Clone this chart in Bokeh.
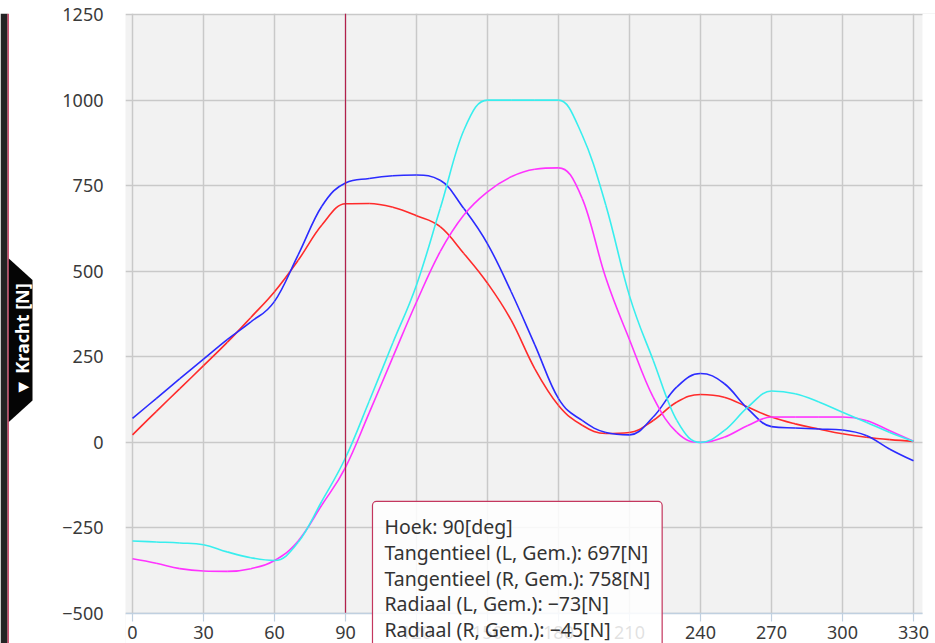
import math
from bokeh.plotting import figure
from bokeh.models import Range1d, FixedTicker, Label
from bokeh.layouts import row
from bokeh.embed import file_html
from bokeh.resources import INLINE
from bokeh.core.properties import value

# Crank angle in degrees and the averaged pedal forces in newton
angles = list(range(0, 331, 10))
tang_l = [22, 90, 157, 224, 292, 365, 440, 532, 635, 697, 698, 687, 662, 630, 552,
          465, 357, 215, 108, 50, 26, 29, 64, 118, 140, 132, 103, 74, 54, 39, 25, 15, 8, 3]
tang_r = [70, 128, 186, 243, 300, 352, 412, 548, 690, 758, 771, 779, 781, 766, 683,
          580, 440, 285, 128, 64, 29, 22, 74, 162, 201, 172, 98, 46, 42, 39, 36, 20, -20, -54]
rad_l = [-340, -353, -369, -376, -377, -369, -345, -288, -183, -73, 86, 249, 410, 557, 664,
         732, 776, 798, 802, 713, 480, 300, 132, 29, 0, 15, 49, 74, 74, 74, 74, 64, 34, 3]
rad_r = [-288, -291, -294, -299, -320, -337, -345, -292, -172, -45, 120, 291, 460, 683, 912,
         1000, 1000, 1000, 1000, 898, 693, 428, 240, 64, 0, 34, 103, 150, 142, 118, 88, 59, 29, 3]

series = [
    ("Tangentieel (L, Gem.)", tang_l, "#ff2b2b"),
    ("Tangentieel (R, Gem.)", tang_r, "#2b2bff"),
    ("Radiaal (L, Gem.)", rad_l, "#ff33ff"),
    ("Radiaal (R, Gem.)", rad_r, "#38eeee"),
]

x_ticks = list(range(0, 331, 30))
y_ticks = [-500, -250, 0, 250, 500, 750, 1000, 1250]
hover_angle = 90

FONT = "Noto Sans"
AXIS_BLUE = "#c0d0e0"


def spline_segments(xs, ys, smoothing=1.5):
    """Cubic bezier segments through the points (Highcharts-style spline)."""
    n = len(xs)
    left = [(xs[i], ys[i]) for i in range(n)]
    right = [(xs[i], ys[i]) for i in range(n)]
    d = smoothing + 1
    for i in range(1, n - 1):
        lx, ly = xs[i - 1], ys[i - 1]
        px, py = xs[i], ys[i]
        nx, ny = xs[i + 1], ys[i + 1]
        lcx = (smoothing * px + lx) / d
        lcy = (smoothing * py + ly) / d
        rcx = (smoothing * px + nx) / d
        rcy = (smoothing * py + ny) / d
        if rcx != lcx:
            corr = (rcy - lcy) * (rcx - px) / (rcx - lcx) + py - rcy
            lcy += corr
            rcy += corr
        if lcy > ly and lcy > py:
            lcy = max(ly, py)
            rcy = 2 * py - lcy
        elif lcy < ly and lcy < py:
            lcy = min(ly, py)
            rcy = 2 * py - lcy
        if rcy > ny and rcy > py:
            rcy = max(ny, py)
            lcy = 2 * py - rcy
        elif rcy < ny and rcy < py:
            rcy = min(ny, py)
            lcy = 2 * py - rcy
        left[i] = (lcx, lcy)
        right[i] = (rcx, rcy)
    seg = dict(x0=[], y0=[], x1=[], y1=[], cx0=[], cy0=[], cx1=[], cy1=[])
    for i in range(1, n):
        seg["x0"].append(xs[i - 1]); seg["y0"].append(ys[i - 1])
        seg["x1"].append(xs[i]); seg["y1"].append(ys[i])
        seg["cx0"].append(right[i - 1][0]); seg["cy0"].append(right[i - 1][1])
        seg["cx1"].append(left[i][0]); seg["cy1"].append(left[i][1])
    return seg


# ---- left side strip with the axis-title tab ----
side = figure(width=40, height=643, x_range=Range1d(0, 40), y_range=Range1d(643, 0),
              toolbar_location=None, output_backend="svg", min_border=0,
              outline_line_color=None, background_fill_color="white",
              border_fill_color="white")
side.axis.visible = False
side.grid.visible = False
side.quad(left=0, right=7, top=0, bottom=643, fill_color="#242424", line_color=None)
side.quad(left=7, right=8.3, top=0, bottom=643, fill_color="#c0284f", line_color=None)
side.patch([8.3, 32, 32, 8.3], [250, 272, 395, 417], fill_color="#050505", line_color=None)
side.text(x=[21], y=[333], text=["\u25BC Kracht [N]"], angle=math.pi / 2,
          text_align="center", text_baseline="middle", text_color="white",
          text_font_size="18px", text_font_style="bold", text_font=value(FONT))

# ---- main chart ----
# The frame runs down to the window bottom and out to the right edge so the
# read-out box and the last angle label are not cut; the margins outside the
# plot area are painted white and the angle axis is drawn by hand.
frame_h = 630
y_top = 1253
y_bottom = -500 - 30 * (y_top + 500) / (frame_h - 30)
px_per_unit = frame_h / (y_top - y_bottom)
x_start, x_end = -2.96, 333.8
px_per_deg = 797 / (x_end - x_start)
x_frame_end = x_end + 13 / px_per_deg

p = figure(width=895, height=643, x_range=Range1d(x_start, x_frame_end),
           y_range=Range1d(y_bottom, y_top),
           toolbar_location=None, output_backend="svg",
           min_border_left=85, min_border_right=0, min_border_top=13, min_border_bottom=0,
           background_fill_color="#f2f2f2", border_fill_color="white", outline_line_color=None)

p.xaxis.visible = False
p.yaxis.ticker = FixedTicker(ticks=y_ticks)
p.yaxis.major_label_overrides = {-250: "\u2212250", -500: "\u2212500"}
p.xgrid.ticker = FixedTicker(ticks=x_ticks)
p.ygrid.ticker = FixedTicker(ticks=y_ticks)
p.grid.grid_line_color = "#c9c9c9"
p.grid.grid_line_width = 1.5

p.yaxis.axis_line_color = None
p.yaxis.major_tick_line_color = None
p.yaxis.minor_tick_line_color = None
p.yaxis.major_tick_out = 0
p.yaxis.major_tick_in = 0
p.yaxis.major_label_standoff = 22
p.yaxis.major_label_text_font = FONT
p.yaxis.major_label_text_font_size = "18px"
p.yaxis.major_label_text_color = "#3a3a3a"

# white margins below and right of the plot area
p.quad(left=[x_start, x_end], right=[x_frame_end, x_frame_end],
       bottom=[y_bottom, y_bottom], top=[y_ticks[0], y_top],
       fill_color="white", line_color=None)

for name, vals, color in series:
    seg = spline_segments(angles, vals)
    p.bezier(x0="x0", y0="y0", x1="x1", y1="y1", cx0="cx0", cy0="cy0", cx1="cx1", cy1="cy1",
             source=seg, line_color=color, line_width=1.6)

# marker line at the hovered angle
p.segment(x0=[hover_angle], y0=[y_ticks[0]], x1=[hover_angle], y1=[y_top],
          line_color="#b3204c", line_width=1.2)

# angle axis: line, ticks and labels
tick_len = 8 / px_per_unit
p.segment(x0=[x_start], y0=[y_ticks[0]], x1=[x_end], y1=[y_ticks[0]],
          line_color=AXIS_BLUE, line_width=1.5)
p.segment(x0=x_ticks, y0=[y_ticks[0]] * len(x_ticks), x1=x_ticks,
          y1=[y_ticks[0] - tick_len] * len(x_ticks), line_color=AXIS_BLUE, line_width=1.2)
p.text(x=x_ticks, y=[y_ticks[0] - 19 / px_per_unit] * len(x_ticks),
       text=[str(t) for t in x_ticks], text_align="center", text_baseline="middle",
       text_font=value(FONT), text_font_size="18px", text_color="#3a3a3a")

# hover read-out box for the marked angle
idx = angles.index(hover_angle)
lines = ["Hoek: %d[deg]" % hover_angle]
for name, vals, color in series:
    v = vals[idx]
    lines.append("%s: %s[N]" % (name, ("\u2212%d" % -v) if v < 0 else "%d" % v))
tip = Label(x=101.4, y=-172.7, x_units="data", y_units="data", anchor="top_left",
            text="\n".join(lines), text_font=FONT, text_font_size="19.5px",
            text_color="#333333", text_line_height=0.95,
            background_fill_color="white", background_fill_alpha=0.85,
            border_line_color="#c4375e", border_line_width=1.2,
            padding=12, border_radius=4)
p.add_layout(tip)

layout = row(side, p, spacing=0)
open("out.html", "w").write(file_html(layout, INLINE))
